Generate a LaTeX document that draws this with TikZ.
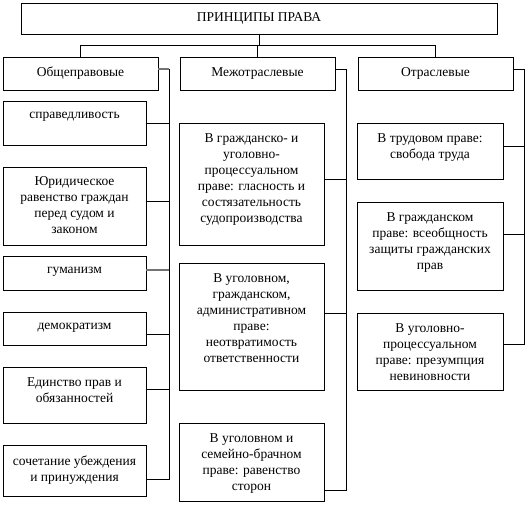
\documentclass[tikz,border=0pt]{standalone}
\usepackage{fontspec}
\setmainfont{Liberation Serif}
\begin{document}
\begin{tikzpicture}[x=1pt,y=1pt]
\tikzstyle{every node}+=[inner sep=0pt, outer sep=0pt]
\tikzset{cell/.style={draw=black, line width=0.9pt, anchor=north west, font=\fontsize{13.5}{16}\selectfont},
  txt/.style={anchor=north, align=center, font=\fontsize{13.5}{16}\selectfont},
  link/.style={black, line width=0.9pt},
  greylink/.style={black!55, line width=1.6pt}}
\useasboundingbox (0,0) rectangle (528,-504);
\node[cell, minimum width=476, minimum height=31] (top) at (21,-3) {ПРИНЦИПЫ ПРАВА};
\node[cell, minimum width=155, minimum height=33] (gen) at (3,-57) {Общеправовые};
\node[cell, minimum width=155, minimum height=33] (inter) at (180,-57) {Межотраслевые};
\node[cell, minimum width=155, minimum height=33] (branch) at (358,-57) {Отраслевые};
% top tree
\coordinate (split) at (top.south |- 0,-45);
\draw[link] (top.south) -- (split);
\draw[link] (gen.north) |- (branch.north |- split) -- (branch.north);
\draw[link] (inter.north) -- (inter.north |- split);
% left column
\node[cell, minimum width=143, minimum height=44] (just) at (3,-101) {};
\node[txt] (justT) at ([yshift=-11]just.north) {справедливость};
\node[cell, minimum width=143, minimum height=78] (equal) at (3,-167) {};
\node[txt] (equalT) at ([yshift=-10]equal.north) {Юридическое\\равенство граждан\\перед судом и\\законом};
\node[cell, minimum width=143, minimum height=34] (human) at (3,-256) {};
\node[txt] (humanT) at ([yshift=-11]human.north) {гуманизм};
\node[cell, minimum width=143, minimum height=33] (democ) at (3,-312) {};
\node[txt] (democT) at ([yshift=-11]democ.north) {демократизм};
\node[cell, minimum width=143, minimum height=56] (unity) at (3,-367) {};
\node[txt] (unityT) at ([yshift=-11]unity.north) {Единство прав и\\обязанностей};
\node[cell, minimum width=143, minimum height=51] (persu) at (3,-445) {};
\node[txt] (persuT) at ([yshift=-11]persu.north) {сочетание убеждения\\и принуждения};
% middle column
\node[cell, minimum width=145, minimum height=122] (proc) at (179,-123) {};
\node[txt] (procT) at ([yshift=-11]proc.north) {В гражданско- и\\уголовно-\\процессуальном\\праве: гласность и\\состязательность\\судопроизводства};
\node[cell, minimum width=145, minimum height=127] (resp) at (179,-263) {};
\node[txt] (respT) at ([yshift=-11]resp.north) {В уголовном,\\гражданском,\\административном\\праве:\\неотвратимость\\ответственности};
\node[cell, minimum width=145, minimum height=78] (equ) at (179,-423) {};
\node[txt] (equT) at ([yshift=-11]equ.north) {В уголовном и\\семейно-брачном\\праве: равенство\\сторон};
% right column
\node[cell, minimum width=146, minimum height=56] (labour) at (357,-123) {};
\node[txt] (labourT) at ([yshift=-11]labour.north) {В трудовом праве:\\свобода труда};
\node[cell, minimum width=146, minimum height=88] (civil) at (357,-202) {};
\node[txt] (civilT) at ([yshift=-11]civil.north) {В гражданском\\праве: всеобщность\\защиты гражданских\\прав};
\node[cell, minimum width=146, minimum height=77] (innoc) at (357,-313) {};
\node[txt] (innocT) at ([yshift=-11]innoc.north) {В уголовно-\\процессуальном\\праве: презумпция\\невиновности};
% trunks
\coordinate (g0) at (169,-69);
\coordinate (g1) at (169,-123);
\coordinate (g2) at (169,-201);
\coordinate (g3) at (169,-270);
\coordinate (g4) at (169,-334);
\coordinate (g5) at (169,-389);
\coordinate (g6) at (169,-479);
\coordinate (i0) at (346,-69);
\coordinate (i1) at (346,-179);
\coordinate (i2) at (346,-313);
\coordinate (i3) at (346,-490);
\coordinate (b0) at (524,-69);
\coordinate (b1) at (524,-146);
\coordinate (b2) at (524,-234);
\coordinate (b3) at (524,-344);
\draw[greylink] (g0 -| gen.east) -- (g0);
\draw[link] (g0) -- (g6) -- (g6 -| persu.east);
\draw[link] (g1) -- (g1 -| just.east);
\draw[link] (g2) -- (g2 -| equal.east);
\draw[greylink] (g3) -- (g3 -| human.east);
\draw[link] (g4) -- (g4 -| democ.east);
\draw[link] (g5) -- (g5 -| unity.east);
\draw[link] (i0 -| inter.east) -- (i0) -- (i3) -- (i3 -| equ.east);
\draw[link] (i1) -- (i1 -| proc.east);
\draw[link] (i2) -- (i2 -| resp.east);
\draw[link] (b0 -| branch.east) -- (b0) -- (b3) -- (b3 -| innoc.east);
\draw[link] (b1) -- (b1 -| labour.east);
\draw[link] (b2) -- (b2 -| civil.east);
\end{tikzpicture}
\end{document}
